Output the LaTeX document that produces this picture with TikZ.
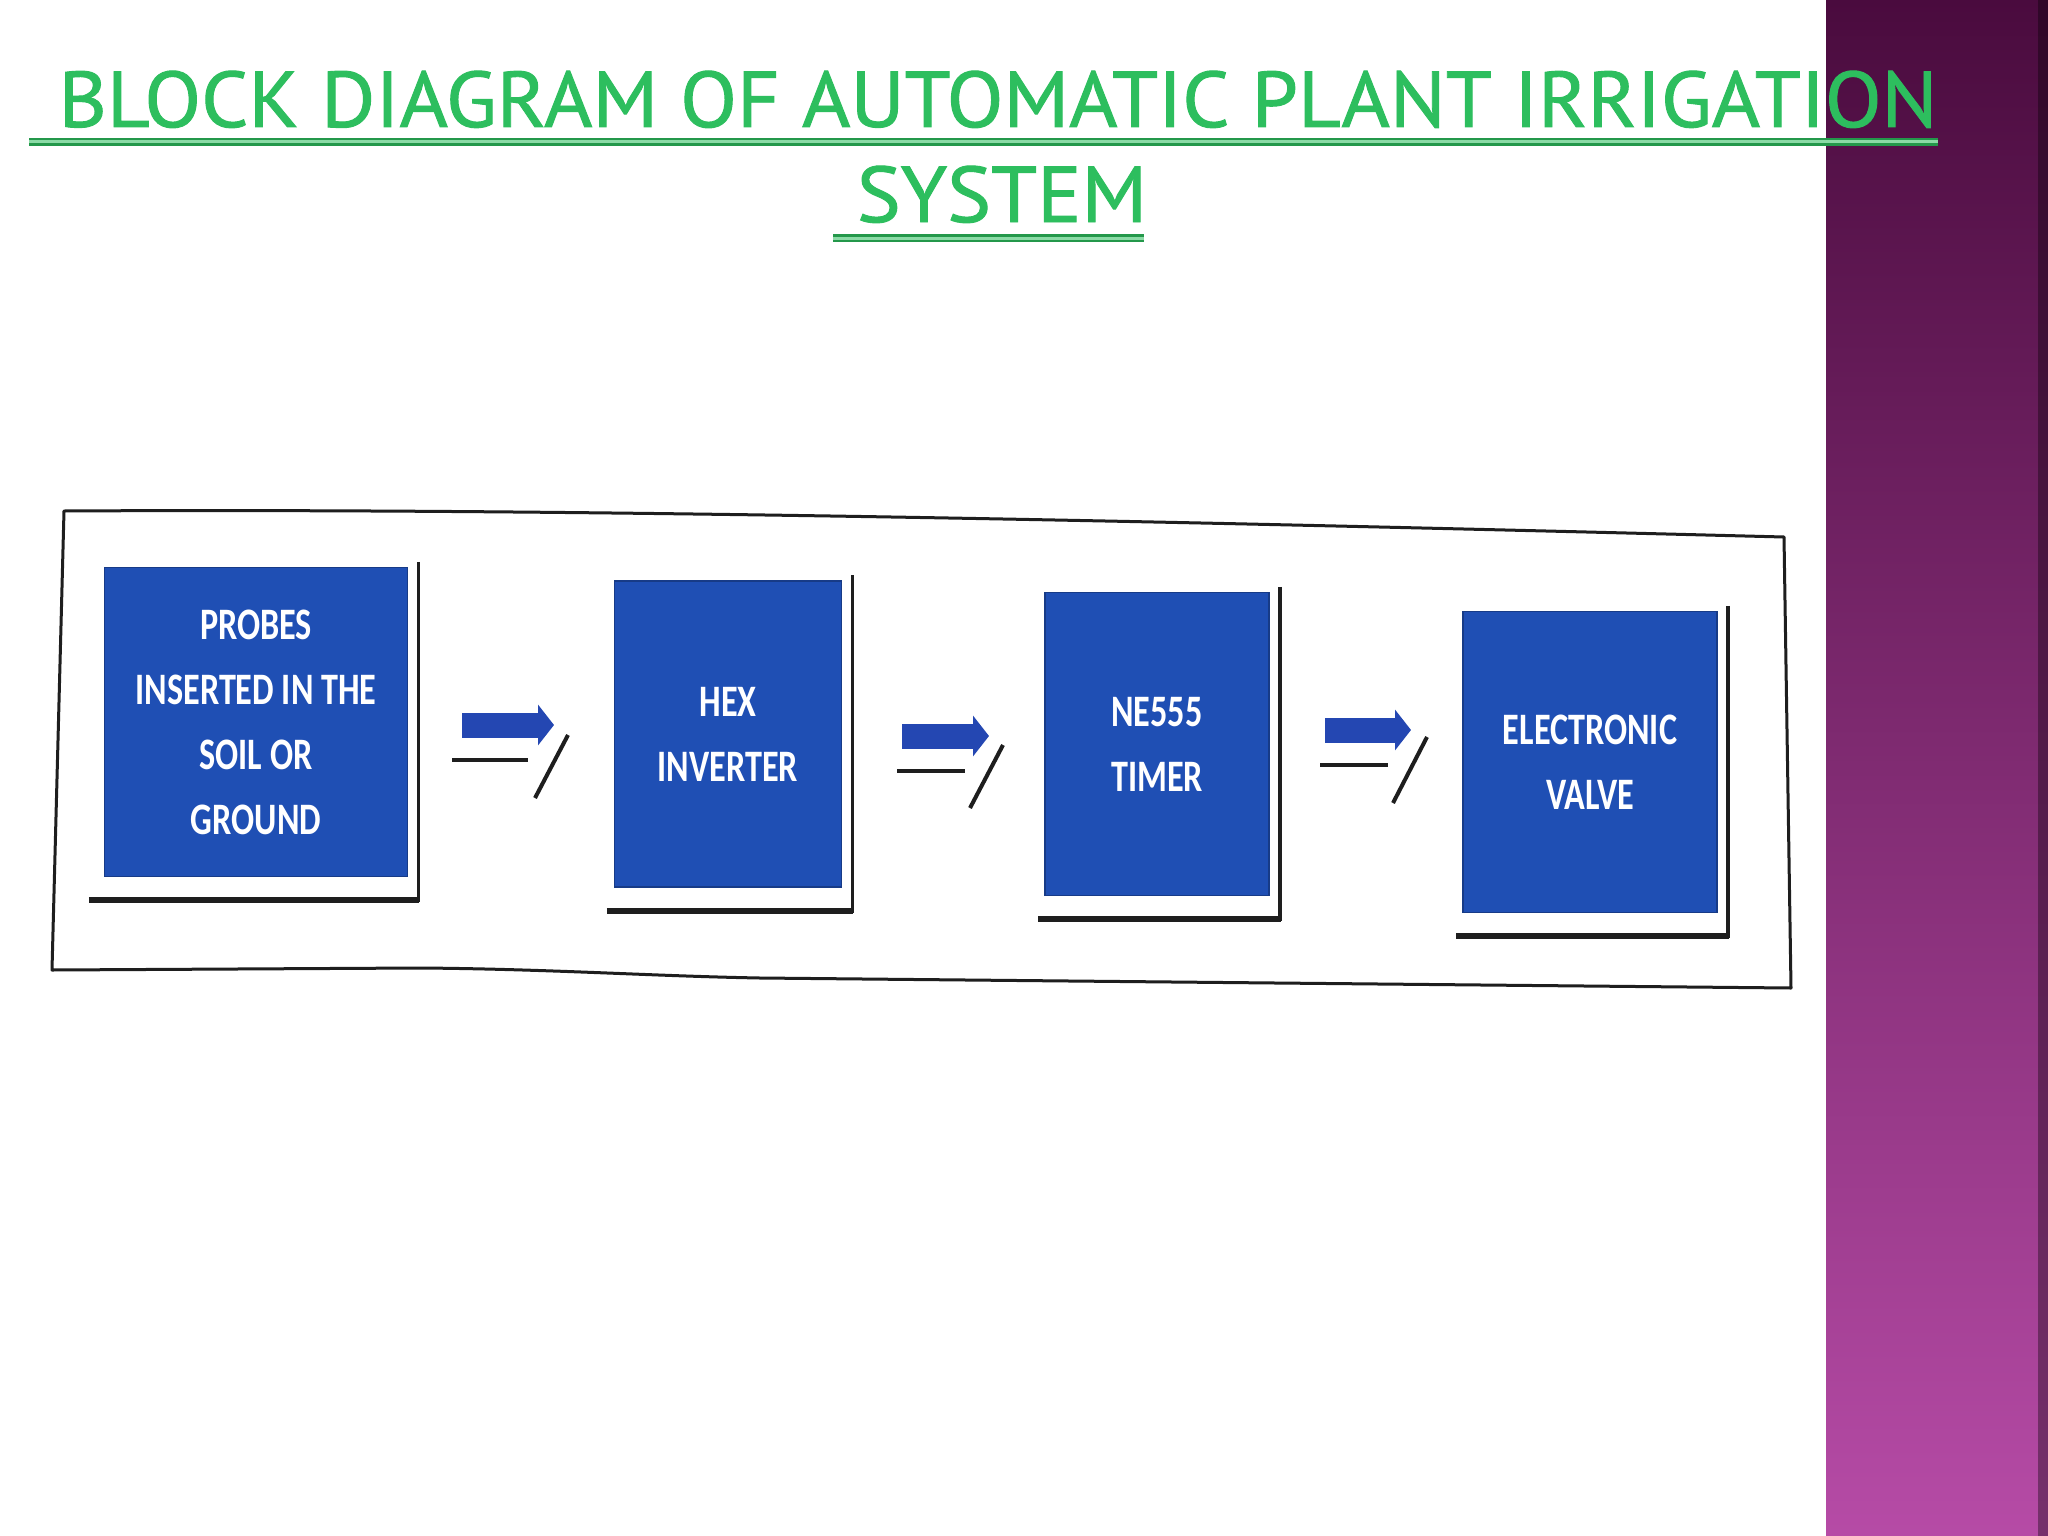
\documentclass[tikz,border=0pt]{standalone}
\usepackage{fontspec}
\usetikzlibrary{arrows.meta,calc}
\newfontfamily\boxfont{Carlito}[FakeStretch=0.76]
\newfontfamily\titlefont{PT Sans}[FakeStretch=1.05,FakeBold=1.2]
\definecolor{boxblue}{HTML}{1F4FB4}
\definecolor{arrowblue}{HTML}{2447B2}
\definecolor{titlegreen}{HTML}{2DBE5E}
\definecolor{bartop}{HTML}{4A0B3E}
\definecolor{barmid}{HTML}{86317B}
\definecolor{barbot}{HTML}{B64BA6}
\definecolor{ink}{HTML}{1E1E1E}
\newcommand\boxshadow[2]{%
  \draw[shadowright] ([shift={(10,-5)}]#1.north east) -- ([shift={(10,25)}]#1.south east);
  \draw[shadowbottom] ([shift={(#2,23)}]#1.south west) -- ([shift={(11,23)}]#1.south east);}
\begin{document}
\begin{tikzpicture}[x=1pt,y=-1pt,
  blockbox/.style={fill=boxblue, draw=boxblue!75!black, line width=1.5pt, inner sep=0pt,
    text=white, align=center, font=\boxfont\bfseries\fontsize{45}{65}\selectfont},
  titletext/.style={text=titlegreen, inner sep=0pt, font=\titlefont\fontsize{79}{95}\selectfont},
  uline/.style={draw=titlegreen!80!black, line width=2.5pt, double=titlegreen!55!white, double distance=3pt},
  shadowright/.style={draw=ink, line width=3.5pt},
  shadowbottom/.style={draw=ink, line width=6pt},
  frameline/.style={draw=ink, line width=3pt, line join=round},
  fatarrow/.style={draw=arrowblue, line width=25pt, -{Triangle[length=16pt 0 0, width=40pt 0 0]}},
  thinline/.style={draw=ink, line width=4.5pt},
  slashline/.style={draw=ink, line width=4pt}]
\useasboundingbox (0,0) rectangle (2048,1536);
\fill[white] (0,0) rectangle (2048,1536);
% right decorative bar
\shade[top color=bartop, middle color=barmid, bottom color=barbot] (1826,0) rectangle (2048,1536);
\fill[black, opacity=0.35] (2038,0) rectangle (2048,1536);
% title
\node[titletext, anchor=base] (t1) at (998,127) {BLOCK DIAGRAM OF AUTOMATIC PLANT IRRIGATION};
\node[titletext, anchor=base] (t2) at (1002,222) {SYSTEM};
\draw[uline] (29,142) -- (1938,142);
\draw[uline] (833,238) -- (1144,238);
% outer frame
\draw[frameline] (64,511) .. controls (600,508) and (1200,522) .. (1784,537) -- (1791,988)
  -- (760,978) .. controls (650,976) and (550,969) .. (420,968) -- (52,970) -- cycle;
% blocks
\node[blockbox, minimum width=303pt, minimum height=309pt] (b1) at (256,722)
  {PROBES\\INSERTED IN THE\\SOIL OR\\GROUND};
\node[blockbox, minimum width=227pt, minimum height=306pt] (b2) at (728,734)
  {HEX\\INVERTER};
\node[blockbox, minimum width=224pt, minimum height=303pt] (b3) at (1157,744)
  {NE555\\TIMER};
\node[blockbox, minimum width=254pt, minimum height=301pt] (b4) at (1590,762)
  {ELECTRONIC\\VALVE};
\boxshadow{b1}{-15}
\boxshadow{b2}{-7}
\boxshadow{b3}{-6}
\boxshadow{b4}{-6}
% arrows
\coordinate (a1s) at (462,725); \coordinate (a1e) at (554,725);
\coordinate (l1s) at (452,760); \coordinate (l1e) at (528,760);
\coordinate (s1a) at (568,735); \coordinate (s1b) at (535,798);
\coordinate (a2s) at (902,736); \coordinate (a2e) at (989,736);
\coordinate (l2s) at (897,771); \coordinate (l2e) at (965,771);
\coordinate (s2a) at (1003,745); \coordinate (s2b) at (970,808);
\coordinate (a3s) at (1325,730); \coordinate (a3e) at (1411,730);
\coordinate (l3s) at (1320,765); \coordinate (l3e) at (1388,765);
\coordinate (s3a) at (1427,737); \coordinate (s3b) at (1393,803);
\draw[fatarrow] (a1s) -- (a1e);
\draw[thinline] (l1s) -- (l1e);
\draw[slashline] (s1a) -- (s1b);
\draw[fatarrow] (a2s) -- (a2e);
\draw[thinline] (l2s) -- (l2e);
\draw[slashline] (s2a) -- (s2b);
\draw[fatarrow] (a3s) -- (a3e);
\draw[thinline] (l3s) -- (l3e);
\draw[slashline] (s3a) -- (s3b);
\end{tikzpicture}
\end{document}
